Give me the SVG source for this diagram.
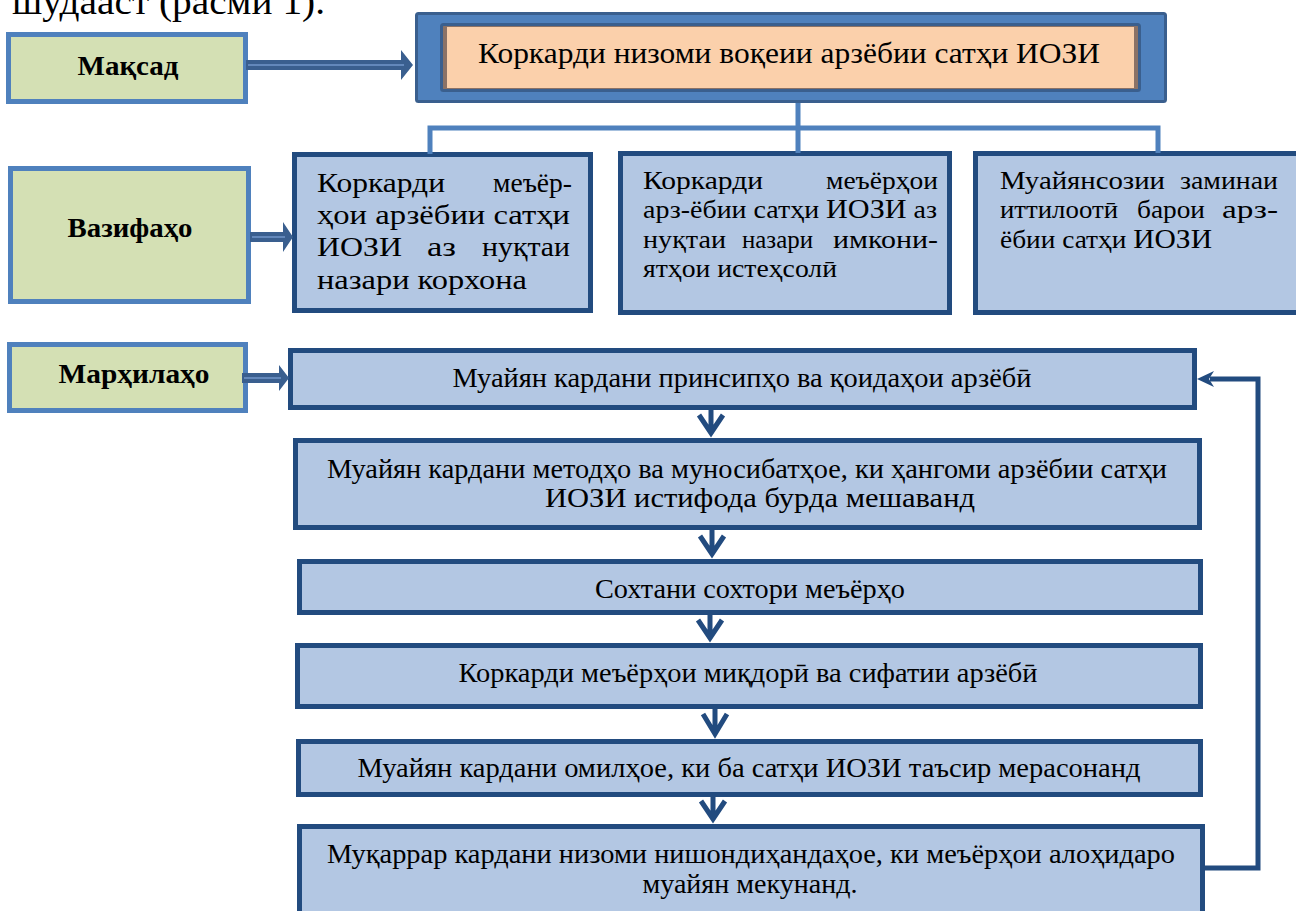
<svg xmlns="http://www.w3.org/2000/svg" width="1296" height="911" viewBox="0 0 1296 911">
<style>
text{font-family:"Liberation Serif","DejaVu Serif",serif;fill:#000}
.lbl{font-weight:bold;font-size:28px;text-anchor:middle}
.green{fill:#d4e0b4;stroke:#4f81bd;stroke-width:5}
.box{fill:#b3c7e3;stroke:#224b7f;stroke-width:5}
.ft{font-size:27px;text-anchor:middle}
.bt{font-size:27px}
.bt2{font-size:25px}
.chev{fill:none;stroke:#224b7f;stroke-width:5;stroke-linejoin:miter;stroke-miterlimit:10}
.tree{fill:none;stroke:#4f81bd;stroke-width:5}
.block{fill:#3a5f8f}
.blockline{stroke:#6388bb;stroke-width:2}
.fb{fill:none;stroke:#224b7f;stroke-width:5}
</style>

<text x="12" y="14" font-size="38" textLength="313" lengthAdjust="spacingAndGlyphs">шудааст (расми 1).</text>

<g id="maqsad">
  <rect class="green" x="8.5" y="34.5" width="237" height="67"/>
  <text class="lbl" x="128" y="75" textLength="101" lengthAdjust="spacingAndGlyphs">Мақсад</text>
</g>

<g id="goal">
  <rect x="416.5" y="13.5" width="749" height="88" rx="2" fill="#4f81bd" stroke="#3a5f8e" stroke-width="3"/>
  <rect x="441.5" y="24.5" width="698" height="66" rx="2" fill="#8b7266" stroke="#3a5f8e" stroke-width="3"/>
  <rect x="447" y="27" width="687" height="61" fill="#fbd0ab"/>
  <text x="478" y="63" font-size="29" textLength="622" lengthAdjust="spacingAndGlyphs">Коркарди низоми воқеии арзёбии сатҳи ИОЗИ</text>
</g>

<g id="vazifaho">
  <rect class="green" x="10.5" y="168.5" width="238" height="133"/>
  <text class="lbl" x="130" y="237" textLength="125" lengthAdjust="spacingAndGlyphs">Вазифаҳо</text>
</g>

<g id="task1">
  <rect class="box" x="294.5" y="154.5" width="296" height="156"/>
  <text class="bt" x="317" y="192" textLength="128" lengthAdjust="spacingAndGlyphs">Коркарди</text>
  <text class="bt" x="493" y="192" textLength="79" lengthAdjust="spacingAndGlyphs">меъёр-</text>
  <text class="bt" x="317" y="224" textLength="253" lengthAdjust="spacingAndGlyphs">ҳои арзёбии сатҳи</text>
  <text class="bt" x="317" y="256" textLength="85" lengthAdjust="spacingAndGlyphs">ИОЗИ</text>
  <text class="bt" x="427" y="256" textLength="29" lengthAdjust="spacingAndGlyphs">аз</text>
  <text class="bt" x="482" y="256" textLength="88" lengthAdjust="spacingAndGlyphs">нуқтаи</text>
  <text class="bt" x="317" y="289" textLength="210" lengthAdjust="spacingAndGlyphs">назари корхона</text>
</g>

<g id="task2">
  <rect class="box" x="620.5" y="153.5" width="329" height="159"/>
  <text class="bt2" x="643" y="189" textLength="120" lengthAdjust="spacingAndGlyphs">Коркарди</text>
  <text class="bt2" x="826" y="189" textLength="112" lengthAdjust="spacingAndGlyphs">меъёрҳои</text>
  <text class="bt2" x="643" y="218" textLength="294" lengthAdjust="spacingAndGlyphs">арз-ёбии сатҳи <tspan font-size="27">ИОЗИ</tspan> аз</text>
  <text class="bt2" x="643" y="248" textLength="83" lengthAdjust="spacingAndGlyphs">нуқтаи</text>
  <text class="bt2" x="742" y="248" textLength="71" lengthAdjust="spacingAndGlyphs">назари</text>
  <text class="bt2" x="833" y="248" textLength="105" lengthAdjust="spacingAndGlyphs">имкони-</text>
  <text class="bt2" x="643" y="277" textLength="194" lengthAdjust="spacingAndGlyphs">ятҳои истеҳсолӣ</text>
</g>

<g id="task3">
  <rect class="box" x="975.5" y="153.5" width="330" height="159"/>
  <text class="bt2" x="1000" y="189" textLength="165" lengthAdjust="spacingAndGlyphs">Муайянсозии</text>
  <text class="bt2" x="1180" y="189" textLength="98" lengthAdjust="spacingAndGlyphs">заминаи</text>
  <text class="bt2" x="1000" y="218" textLength="118" lengthAdjust="spacingAndGlyphs">иттилоотӣ</text>
  <text class="bt2" x="1137" y="218" textLength="68" lengthAdjust="spacingAndGlyphs">барои</text>
  <text class="bt2" x="1222" y="218" textLength="56" lengthAdjust="spacingAndGlyphs">арз-</text>
  <text class="bt2" x="1000" y="248" textLength="212" lengthAdjust="spacingAndGlyphs">ёбии сатҳи <tspan font-size="27">ИОЗИ</tspan></text>
</g>

<g id="marhilaho">
  <rect class="green" x="9.5" y="344.5" width="236" height="66"/>
  <text class="lbl" x="134" y="383" textLength="151" lengthAdjust="spacingAndGlyphs">Марҳилаҳо</text>
</g>

<g id="step1">
  <rect class="box" x="290.5" y="350.5" width="904" height="57"/>
  <text class="ft" x="742" y="387" textLength="579" lengthAdjust="spacingAndGlyphs">Муайян кардани принсипҳо ва қоидаҳои арзёбӣ</text>
</g>

<g id="step2">
  <rect class="box" x="295.5" y="440.5" width="904" height="87"/>
  <text class="ft" x="747" y="478" textLength="840" lengthAdjust="spacingAndGlyphs">Муайян кардани методҳо ва муносибатҳое, ки ҳангоми арзёбии сатҳи</text>
  <text class="ft" x="760" y="507" textLength="430" lengthAdjust="spacingAndGlyphs">ИОЗИ истифода бурда мешаванд</text>
</g>

<g id="step3">
  <rect class="box" x="299.5" y="561.5" width="901" height="51"/>
  <text class="ft" x="750" y="598" textLength="310" lengthAdjust="spacingAndGlyphs">Сохтани сохтори меъёрҳо</text>
</g>

<g id="step4">
  <rect class="box" x="297.5" y="645.5" width="903" height="61"/>
  <text class="ft" x="748" y="682" textLength="579" lengthAdjust="spacingAndGlyphs">Коркарди меъёрҳои миқдорӣ ва сифатии арзёбӣ</text>
</g>

<g id="step5">
  <rect class="box" x="298.5" y="741.5" width="902" height="53"/>
  <text class="ft" x="749" y="777" textLength="783" lengthAdjust="spacingAndGlyphs">Муайян кардани омилҳое, ки ба сатҳи ИОЗИ таъсир мерасонанд</text>
</g>

<g id="step6">
  <rect class="box" x="299.5" y="826.5" width="903" height="100"/>
  <text class="ft" x="751" y="863" textLength="848" lengthAdjust="spacingAndGlyphs">Муқаррар кардани низоми нишондиҳандаҳое, ки меъёрҳои алоҳидаро</text>
  <text class="ft" x="750" y="893" textLength="215" lengthAdjust="spacingAndGlyphs">муайян мекунанд.</text>
</g>

<g id="connectors">
  <polygon class="block" points="246,60 401,60 401,50 413,65 401,80 401,70 246,70"/>
  <line class="blockline" x1="248" y1="65" x2="404" y2="65"/>
  <polygon class="block" points="250,232 283,232 283,222 293,237 283,252 283,242 250,242"/>
  <line class="blockline" x1="252" y1="237" x2="285" y2="237"/>
  <polygon class="block" points="242,373 279,373 279,365 289,378 279,391 279,383 242,383"/>
  <line class="blockline" x1="244" y1="378" x2="281" y2="378"/>

  <path class="tree" d="M798,103 V128 M430,154 V128 H1158 V153 M798,128 V153"/>

  <path class="chev" d="M711,410 V433 M699,415 L711,433 L723,415"/>
  <path class="chev" d="M712,530 V554 M700,536 L712,554 L724,536"/>
  <path class="chev" d="M710,615 V638 M698,620 L710,638 L722,620"/>
  <path class="chev" d="M715,709 V734 M703,714 L715,734 L727,714"/>
  <path class="chev" d="M713,797 V819 M701,801 L713,819 L725,801"/>

  <path class="fb" d="M1203,868 H1258 V379 H1210"/>
  <polygon fill="#224b7f" points="1197,379 1214,371 1209,379 1214,387"/>
</g>
</svg>
